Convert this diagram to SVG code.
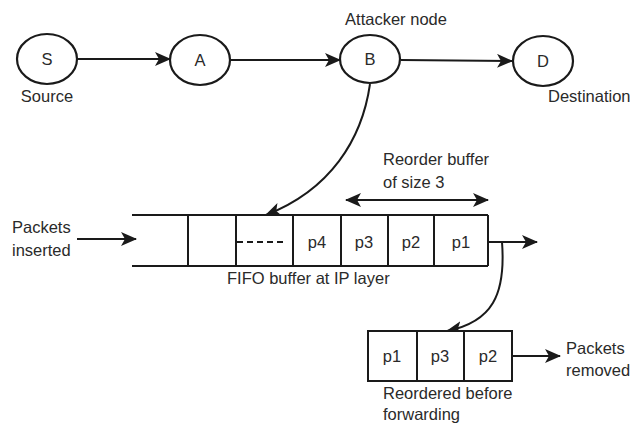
<svg xmlns="http://www.w3.org/2000/svg" width="630" height="423" viewBox="0 0 630 423">
<defs>
<marker id="ah" markerUnits="userSpaceOnUse" markerWidth="18" markerHeight="14" refX="15" refY="7" orient="auto-start-reverse">
<path d="M0,0 L16,7 L0,14 L4,7 z" fill="#1a1a1a"/>
</marker>
<style>
.ln{stroke:#1a1a1a;stroke-width:2;fill:none}
.nd{stroke:#1a1a1a;stroke-width:2.2;fill:#fff}
.bx{stroke:#1a1a1a;stroke-width:2;fill:#fff}
text{font-family:"Liberation Sans",Arial,sans-serif;font-size:16.5px;fill:#2a2a2a}
.c{text-anchor:middle}
</style>
</defs>
<rect width="630" height="423" fill="#fff"/>
<g id="connectors">
<line class="ln" x1="77" y1="59" x2="170" y2="59" marker-end="url(#ah)"/>
<line class="ln" x1="231" y1="60" x2="340" y2="60" marker-end="url(#ah)"/>
<line class="ln" x1="401" y1="60" x2="512" y2="61" marker-end="url(#ah)"/>
<path class="ln" d="M370,84 C362,140 330,190 266,215" marker-end="url(#ah)"/>
<line class="ln" x1="77" y1="239" x2="136" y2="239" marker-end="url(#ah)"/>
<line class="ln" x1="346" y1="200" x2="488" y2="200" marker-start="url(#ah)" marker-end="url(#ah)"/>
<line class="ln" x1="488" y1="242" x2="537" y2="242" marker-end="url(#ah)"/>
<path class="ln" d="M502,242 C506,295 492,322 447,331" marker-end="url(#ah)"/>
<line class="ln" x1="512" y1="356" x2="560" y2="356" marker-end="url(#ah)"/>
</g>
<g id="node-S">
<ellipse class="nd" cx="47" cy="59" rx="30" ry="25"/>
<text class="c" x="47" y="65">S</text>
<text class="c" x="47" y="102">Source</text>
</g>
<g id="node-A">
<ellipse class="nd" cx="200" cy="60" rx="30" ry="25"/>
<text class="c" x="200" y="66">A</text>
</g>
<g id="node-B">
<ellipse class="nd" cx="370" cy="59" rx="30" ry="24"/>
<text class="c" x="370" y="65">B</text>
<text class="c" x="396" y="25">Attacker node</text>
</g>
<g id="node-D">
<ellipse class="nd" cx="543" cy="61" rx="30" ry="25"/>
<text class="c" x="543" y="67">D</text>
<text x="548" y="102">Destination</text>
</g>
<g id="fifo-buffer">
<line class="ln" x1="132" y1="215" x2="488" y2="215"/>
<line class="ln" x1="132" y1="266" x2="488" y2="266"/>
<line class="ln" x1="188" y1="215" x2="188" y2="266"/>
<line class="ln" x1="236" y1="215" x2="236" y2="266"/>
<line class="ln" x1="293" y1="215" x2="293" y2="266"/>
<line class="ln" x1="341" y1="215" x2="341" y2="266"/>
<line class="ln" x1="388" y1="215" x2="388" y2="266"/>
<line class="ln" x1="434" y1="215" x2="434" y2="266"/>
<line class="ln" x1="488" y1="215" x2="488" y2="266"/>
<line class="ln" x1="237" y1="242" x2="287" y2="242" stroke-dasharray="6,4"/>
<text class="c" x="317" y="248">p4</text>
<text class="c" x="364" y="248">p3</text>
<text class="c" x="411" y="248">p2</text>
<text class="c" x="461" y="248">p1</text>
<text x="227" y="284">FIFO buffer at IP layer</text>
</g>
<g id="label-inserted">
<text x="12" y="233">Packets</text>
<text x="12" y="256">inserted</text>
</g>
<g id="label-reorder">
<text x="383" y="165">Reorder buffer</text>
<text x="383" y="188">of size 3</text>
</g>
<g id="reordered-buffer">
<rect class="bx" x="368" y="331" width="144" height="50"/>
<line class="ln" x1="417" y1="331" x2="417" y2="381"/>
<line class="ln" x1="464" y1="331" x2="464" y2="381"/>
<text class="c" x="392" y="362">p1</text>
<text class="c" x="440" y="362">p3</text>
<text class="c" x="488" y="362">p2</text>
<text x="383" y="399">Reordered before</text>
<text x="383" y="420">forwarding</text>
</g>
<g id="label-removed">
<text x="566" y="354">Packets</text>
<text x="566" y="376">removed</text>
</g>
</svg>
